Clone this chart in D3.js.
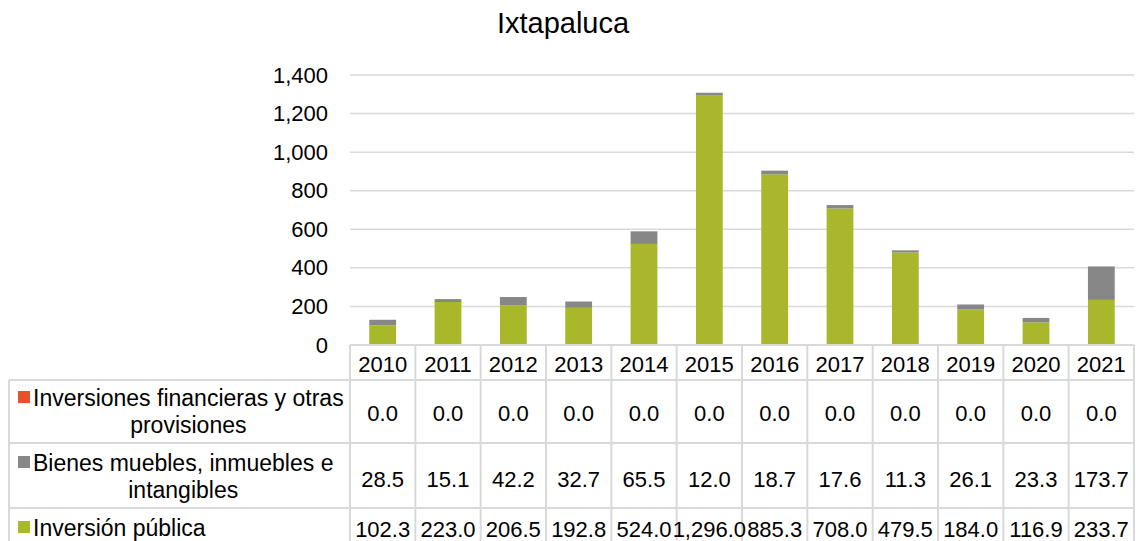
<!DOCTYPE html>
<html lang="es">
  <head>
    <meta charset="utf-8" />
    <title>Ixtapaluca</title>
    <script src="https://d3js.org/d3.v7.min.js"></script>
    <style>
      body { margin: 0; background: #fff; }
      text { font-family: "Liberation Sans", Arial, sans-serif; fill: #000; }
    </style>
  </head>
  <body>
    <svg id="chart" width="1136" height="541"></svg>

    <script>
      // datos
      const years = ["2010", "2011", "2012", "2013", "2014", "2015", "2016", "2017", "2018", "2019", "2020", "2021"];
      const inversionesFinancieras = [0, 0, 0, 0, 0, 0, 0, 0, 0, 0, 0, 0];
      const bienesMuebles = [28.5, 15.1, 42.2, 32.7, 65.5, 12.0, 18.7, 17.6, 11.3, 26.1, 23.3, 173.7];
      const inversionPublica = [102.3, 223.0, 206.5, 192.8, 524.0, 1296.0, 885.3, 708.0, 479.5, 184.0, 116.9, 233.7];
      const yTicks = [0, 200, 400, 600, 800, 1000, 1200, 1400];

      // filas de la tabla, de arriba abajo (como en Excel)
      const rows = [
        { key: "fin", lines: ["Inversiones financieras y otras", "provisiones"], values: inversionesFinancieras, color: "#e4532a" },
        { key: "bienes", lines: ["Bienes muebles, inmuebles e", "intangibles"], values: bienesMuebles, color: "#878787" },
        { key: "pub", lines: ["Inversión pública"], values: inversionPublica, color: "#a8b82a" }
      ];

      const svg = d3.select("#chart");
      const plotLeft = 350, plotRight = 1134, plotTop = 75, plotBottom = 345;
      const fmt = d3.format(",.1f");
      const lineColor = "#d9d9d9";

      const x = d3.scaleBand().domain(years).range([plotLeft, plotRight]);
      const xBar = d3.scaleBand().domain(years).range([plotLeft, plotRight])
        .paddingInner(0.59).paddingOuter(0.295);
      const y = d3.scaleLinear().domain([0, 1400]).range([plotBottom, plotTop]);

      // titulo
      svg.append("text")
        .attr("x", 563).attr("y", 33)
        .attr("text-anchor", "middle")
        .style("font-size", "29px")
        .text("Ixtapaluca");

      // lineas de la cuadricula
      svg.append("g")
        .selectAll("line")
        .data(yTicks.filter(d => d > 0))
        .join("line")
        .attr("x1", plotLeft).attr("x2", plotRight)
        .attr("y1", d => y(d)).attr("y2", d => y(d))
        .attr("stroke", lineColor).attr("stroke-width", 1.5);

      // eje y
      const yAxis = svg.append("g")
        .attr("transform", `translate(${plotLeft},0)`)
        .call(d3.axisLeft(y).tickValues(yTicks).tickFormat(d3.format(",")).tickSize(0).tickPadding(22));
      yAxis.select(".domain").remove();
      yAxis.selectAll("text")
        .style("font-size", "22px")
        .style("font-family", "'Liberation Sans', Arial, sans-serif")
        .attr("fill", "#000");

      // barras apiladas
      const table = years.map((yr, i) => ({ year: yr, pub: inversionPublica[i], bienes: bienesMuebles[i], fin: inversionesFinancieras[i] }));
      const stacked = d3.stack().keys(["pub", "bienes", "fin"])(table);
      const colorOf = { pub: "#a8b82a", bienes: "#878787", fin: "#e4532a" };

      svg.append("g")
        .selectAll("g")
        .data(stacked)
        .join("g")
        .attr("fill", d => colorOf[d.key])
        .selectAll("rect")
        .data(d => d)
        .join("rect")
        .attr("x", d => xBar(d.data.year))
        .attr("width", xBar.bandwidth())
        .attr("y", d => y(d[1]))
        .attr("height", d => y(d[0]) - y(d[1]));

      // tabla de datos
      const headTop = plotBottom;
      const rowTops = [380, 443, 508, 573];
      const tbl = svg.append("g").attr("stroke", lineColor).attr("stroke-width", 2);

      // lineas horizontales
      tbl.append("line").attr("x1", plotLeft).attr("x2", plotRight).attr("y1", headTop).attr("y2", headTop);
      rowTops.forEach(t => {
        tbl.append("line").attr("x1", 9).attr("x2", plotRight).attr("y1", t).attr("y2", t);
      });
      // lineas verticales
      tbl.selectAll("line.v")
        .data(years.concat(["end"]))
        .join("line")
        .attr("class", "v")
        .attr("x1", (d, i) => i < years.length ? x(d) : plotRight)
        .attr("x2", (d, i) => i < years.length ? x(d) : plotRight)
        .attr("y1", headTop).attr("y2", 541);
      tbl.append("line").attr("x1", 9).attr("x2", 9).attr("y1", 380).attr("y2", 541);

      // encabezado de años
      svg.append("g")
        .selectAll("text")
        .data(years)
        .join("text")
        .attr("x", d => x(d) + x.bandwidth() / 2)
        .attr("y", 372)
        .attr("text-anchor", "middle")
        .style("font-size", "22px")
        .text(d => d);

      // valores
      const valueBase = [421, 487, 537];
      rows.forEach((r, ri) => {
        svg.append("g")
          .selectAll("text")
          .data(r.values)
          .join("text")
          .attr("x", (d, i) => x(years[i]) + x.bandwidth() / 2)
          .attr("y", valueBase[ri])
          .attr("text-anchor", "middle")
          .style("font-size", "22px")
          .text(d => fmt(d));
      });

      // leyenda en la tabla
      const legendBase = [406, 471, 536];
      rows.forEach((r, ri) => {
        const g = svg.append("g");
        g.append("rect")
          .attr("x", 18).attr("y", legendBase[ri] - 15)
          .attr("width", 12).attr("height", 12)
          .attr("fill", r.color);
        const first = g.append("text")
          .attr("x", 33).attr("y", legendBase[ri])
          .style("font-size", "23px")
          .text(r.lines[0]);
        if (r.lines.length > 1) {
          const cx = 33 + first.node().getComputedTextLength() / 2;
          g.append("text")
            .attr("x", cx).attr("y", legendBase[ri] + 27)
            .attr("text-anchor", "middle")
            .style("font-size", "23px")
            .text(r.lines[1]);
        }
      });
    </script>
  </body>
</html>
